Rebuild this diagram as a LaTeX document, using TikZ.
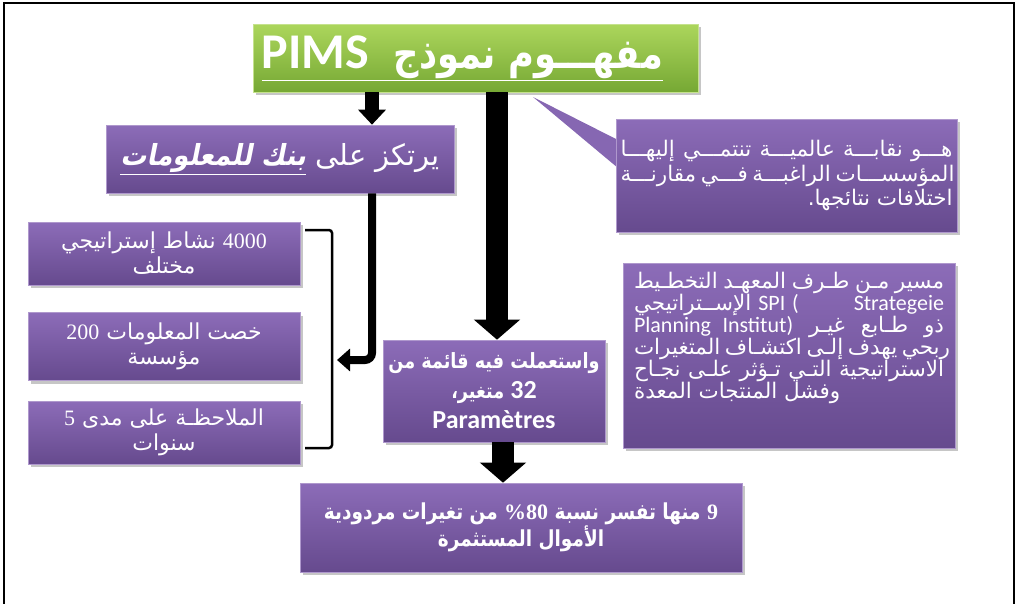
\documentclass[tikz,border=0pt]{standalone}
\usepackage{fontspec}
\setmainfont{DejaVu Sans}
\newfontfamily\arabicfont[Script=Arabic]{DejaVu Sans}
\newfontfamily\arabicnarrow[Script=Arabic,FakeStretch=0.84]{DejaVu Sans}
\newfontfamily\arabicbi[Script=Arabic,FakeSlant=0.2,FakeStretch=0.9]{DejaVu Sans Bold}
\newfontfamily\calfont{Carlito}
\newfontfamily\timesfont{Liberation Serif}
\TeXXeTstate=1
\usetikzlibrary{arrows.meta,positioning,shadows}

\definecolor{boxtop}{RGB}{140,108,184}
\definecolor{boxbot}{RGB}{102,74,142}
\definecolor{greentop}{RGB}{172,214,92}
\definecolor{greenbot}{RGB}{118,168,52}

% one justified right-to-left line
\newcommand\rline[1]{\hbox to\hsize{\beginR#1\endR}}
\newcommand\lat[1]{\hbox{#1}}

\begin{document}
\begin{tikzpicture}[
    x=1pt, y=-1pt,
    node distance=27pt and 20pt,
    box/.style={rectangle, draw=boxtop!70!white, line width=0.6pt, top color=boxtop, bottom color=boxbot,
      text=white, inner sep=0pt, align=center, font=\arabicfont,
      drop shadow={shadow xshift=3pt, shadow yshift=-3pt, opacity=0.45}},
    titlebox/.style={box, draw=greentop!70!white, top color=greentop, bottom color=greenbot},
    toparrow/.style={-{Triangle[width=27pt,length=15pt]}, line width=14pt},
    bigarrow/.style={-{Triangle[width=45pt,length=20pt]}, line width=22pt},
    linkarrow/.style={-{Triangle[width=22pt,length=13pt]}, line width=8pt, rounded corners=7pt},
    bracket/.style={line width=2.5pt, rounded corners=3pt}
]
\useasboundingbox (0,0) rectangle (1018,603);
\draw[line width=2.5pt] (4,610) -- (4,3) -- (1014,3) -- (1014,610);

% title
\node[titlebox, minimum width=445pt, minimum height=68pt] (title) at (475.5,58)
  {\bfseries\arabicnarrow\fontsize{42}{48}\selectfont\underline{\beginR مفهـــوم نموذج\ \ \lat{\calfont\fontsize{50}{50}\selectfont PIMS}\endR}\hspace{26pt}};

% left branch
\node[box, minimum width=348pt, minimum height=68pt] (bank) at (280,159)
  {\fontsize{29}{34}\selectfont\beginR يرتكز على \underline{\arabicbi\beginR بنك للمعلومات\endR}\endR};
\node[box, minimum width=272pt, minimum height=63pt, font=\arabicfont\fontsize{22}{25}\selectfont] (act) at (164,253.5)
  {\beginR\lat{\timesfont 4000} نشاط إستراتيجي\endR\\\beginR مختلف\endR};
\node[box, minimum width=272pt, minimum height=68pt, font=\arabicfont\fontsize{22}{25}\selectfont, below=27pt of act] (firms)
  {\beginR خصت المعلومات \lat{\timesfont 200}\endR\\\beginR مؤسسة\endR};
\node[box, minimum width=272pt, minimum height=63pt, font=\arabicfont\fontsize{22}{25}\selectfont, below=20pt of firms] (years)
  {\beginR الملاحظـة على مدى \lat{\timesfont 5}\endR\\\beginR سنوات\endR};
\draw[bracket] (305,230) -- (332,230) -- (332,448) -- (305,448);

% callout
\fill[boxtop!85!boxbot] (533,97) -- (618,140) -- (618,168) -- cycle;
\node[box, minimum width=341pt, minimum height=113pt] (note) at (786.5,175.5)
  {\vbox{\hsize=332pt\fontsize{21.5}{24.5}\selectfont
    \rline{هـــو نقابـــة عالميـــة تنتمـــي إليهـــا}
    \rline{المؤسســـات الراغبـــة فـــي مقارنـــة}
    \rline{اختلافات نتائجها.\hfill}}};

\node[box, minimum width=332pt, minimum height=185pt] (spi) at (789,355.5)
  {\vbox{\hsize=310pt\fontsize{21.5}{22}\selectfont
    \rline{مسير مـن طـرف المعهـد التخطـيط}
    \hbox to\hsize{\beginR الإســتراتيجي\endR\ {\calfont\fontsize{22}{22}\selectfont SPI}\ {\calfont\fontsize{22}{22}\selectfont(}\hfill{\calfont\fontsize{22}{22}\selectfont Strategeie}}
    \hbox to\hsize{{\calfont\fontsize{22}{22}\selectfont Planning Institut)}\ \beginR ذو طـابع غيـر\endR}
    \rline{ربحي يهدف إلـى اكتشـاف المتغيرات}
    \rline{الاستراتيجية التـي تـؤثر علـى نجـاح}
    \hbox to\hsize{\beginR وفشل المنتجات المعدة\endR\hfill}
    \vskip 36pt}};

% centre column
\node[box, minimum width=222pt, minimum height=102pt, font=\bfseries\arabicnarrow\fontsize{21}{30}\selectfont] (params) at (494,391)
  {\beginR واستعملت فيه قائمة من\endR\\\beginR\lat{\calfont\fontsize{26}{30}\selectfont 32} متغير،\endR\\{\calfont\fontsize{26}{30}\selectfont Paramètres}};
\node[box, minimum width=442pt, minimum height=89pt, font=\bfseries\arabicnarrow\fontsize{22}{26}\selectfont] (result) at (521,527.5)
  {\beginR\lat{\timesfont 9} منها تفسر نسبة \lat{\timesfont 80\kern0pt\%} من تغيرات مردودية\endR\\\beginR الأموال المستثمرة\endR};

% arrows
\coordinate (lx) at (372,0);
\coordinate (cx) at (497,0);
\coordinate (rx) at (503,0);
\coordinate (brk) at (337,360);
\draw[toparrow] (title.south -| lx) -- (bank.north -| lx);
\draw[bigarrow] (title.south -| cx) -- (params.north -| cx);
\draw[bigarrow] (params.south -| rx) -- (result.north -| rx);
\draw[linkarrow] (bank.south -| lx) |- (brk);
\end{tikzpicture}
\end{document}
